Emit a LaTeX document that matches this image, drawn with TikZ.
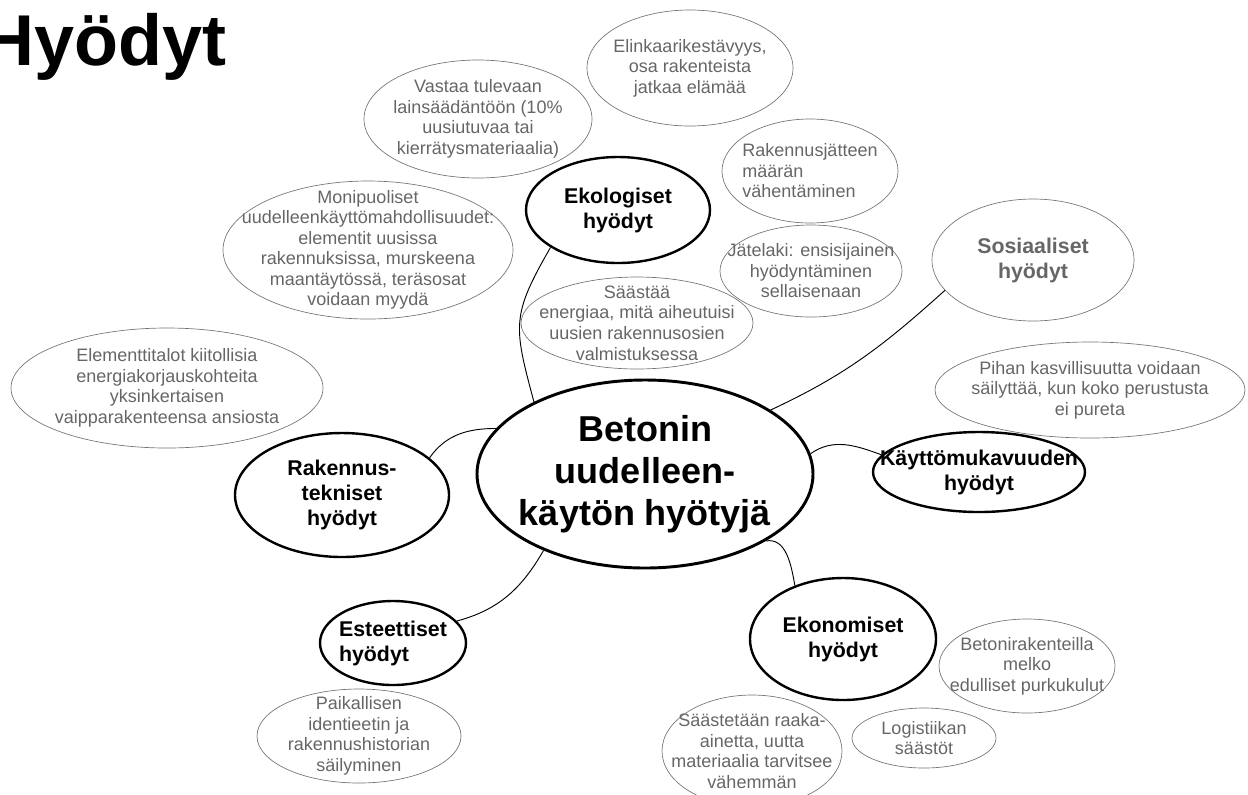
\documentclass[tikz,border=0pt]{standalone}
\usepackage{fontspec}
\setmainfont{Liberation Sans}
\usetikzlibrary{shapes.geometric}
\tikzstyle{centre} = [ellipse, draw=black, line width=2.2pt,
inner sep=-40pt,
align=center,
font=\fontsize{27}{31.5}\selectfont\bfseries]
\tikzstyle{benefit} = [ellipse, draw=black, line width=1.8pt,
inner sep=-40pt,
align=center,
font=\fontsize{16}{18.75}\selectfont\bfseries]
\tikzstyle{note} = [ellipse, draw=black!55, line width=0.5pt,
inner sep=-40pt,
align=center,
text=black!60,
font=\fontsize{13.5}{15.4}\selectfont]
\tikzstyle{link} = [draw, line width=0.7pt]
\tikzset{esize/.style 2 args={minimum width=#1*1.5pt, minimum height=#2*1.5pt}}

\begin{document}
\begin{tikzpicture}[x=0.75pt, y=-0.75pt]
\useasboundingbox (0,0) rectangle (1248,794);

\node [anchor=base west, inner sep=0pt, font=\fontsize{54}{60}\selectfont\bfseries] (title) at (-18,65) {Hyödyt};

% main ellipses
\node [centre, esize={168}{94}] (core) at (645,474) {Betonin\\uudelleen-\\käytön hyötyjä};
\node [benefit, esize={92}{53}] (eko) at (618,210) {Ekologiset\\hyödyt};
\node [benefit, esize={107}{62}] (rak) at (342,495) {Rakennus-\\tekniset\\hyödyt};
\node [benefit, esize={73}{42}, align=left] (est) at (393,643) {Esteettiset\\hyödyt};
\node [benefit, esize={106}{40}] (kay) at (979,472) {Käyttömukavuuden\\hyödyt};
\node [benefit, esize={93}{61}] (ekon) at (843,639) {Ekonomiset\\hyödyt};
\node [note, esize={101}{61}, font=\fontsize{16}{18.75}\selectfont\bfseries] (sos) at (1033,260) {Sosiaaliset\\hyödyt};

% notes
\node [note, esize={114}{59}] (n1) at (478,119) {Vastaa tulevaan\\lainsäädäntöön (10\%\\uusiutuvaa tai\\kierrätysmateriaalia)};
\node [note, esize={103}{58}] (n2) at (690,68) {Elinkaarikestävyys,\\osa rakenteista\\jatkaa elämää};
\node [note, esize={88}{52}, align=left] (n3) at (810,171) {Rakennusjätteen\\määrän\\vähentäminen};
\node [note, esize={91}{46}] (n4) at (811,271) {Jätelaki: ensisijainen\\hyödyntäminen\\sellaisenaan};
\node [note, esize={145}{69}] (n5) at (368,250) {Monipuoliset\\uudelleenkäyttömahdollisuudet:\\elementit uusissa\\rakennuksissa, murskeena\\maantäytössä, teräsosat\\voidaan myydä};
\node [note, esize={116}{46}] (n6) at (637,323) {Säästää\\energiaa, mitä aiheutuisi\\uusien rakennusosien\\valmistuksessa};
\node [note, esize={156}{60}] (n7) at (167,388) {Elementtitalot kiitollisia\\energiakorjauskohteita\\yksinkertaisen\\vaipparakenteensa ansiosta};
\node [note, esize={155}{48}] (n8) at (1090,390) {Pihan kasvillisuutta voidaan\\säilyttää, kun koko perustusta\\ei pureta};
\node [note, esize={88}{47}] (n9) at (1027,666) {Betonirakenteilla\\melko\\edulliset purkukulut};
\node [note, esize={72}{30}] (n10) at (924,738) {Logistiikan\\säästöt};
\node [note, esize={90}{56}] (n11) at (752,751) {Säästetään raaka-\\ainetta, uutta\\materiaalia tarvitsee\\vähemmän};
\node [note, esize={102}{47}] (n12) at (359,736) {Paikallisen\\identieetin ja\\rakennushistorian\\säilyminen};

% links
\path [link] (eko.209) to[out=240, in=105, looseness=1.3] (core.147);
\path [link] (sos.199) to[out=222, in=25] (core.27);
\path [link] (rak.23) to[out=55, in=180] (core.163);
\path [link] (est.19) to[out=15, in=240] (core.217);
\path [link] (core.7) to[out=35, in=160] (kay.170);
\path [link] (core.331) to[out=10, in=100] (ekon.132);

\end{tikzpicture}
\end{document}
